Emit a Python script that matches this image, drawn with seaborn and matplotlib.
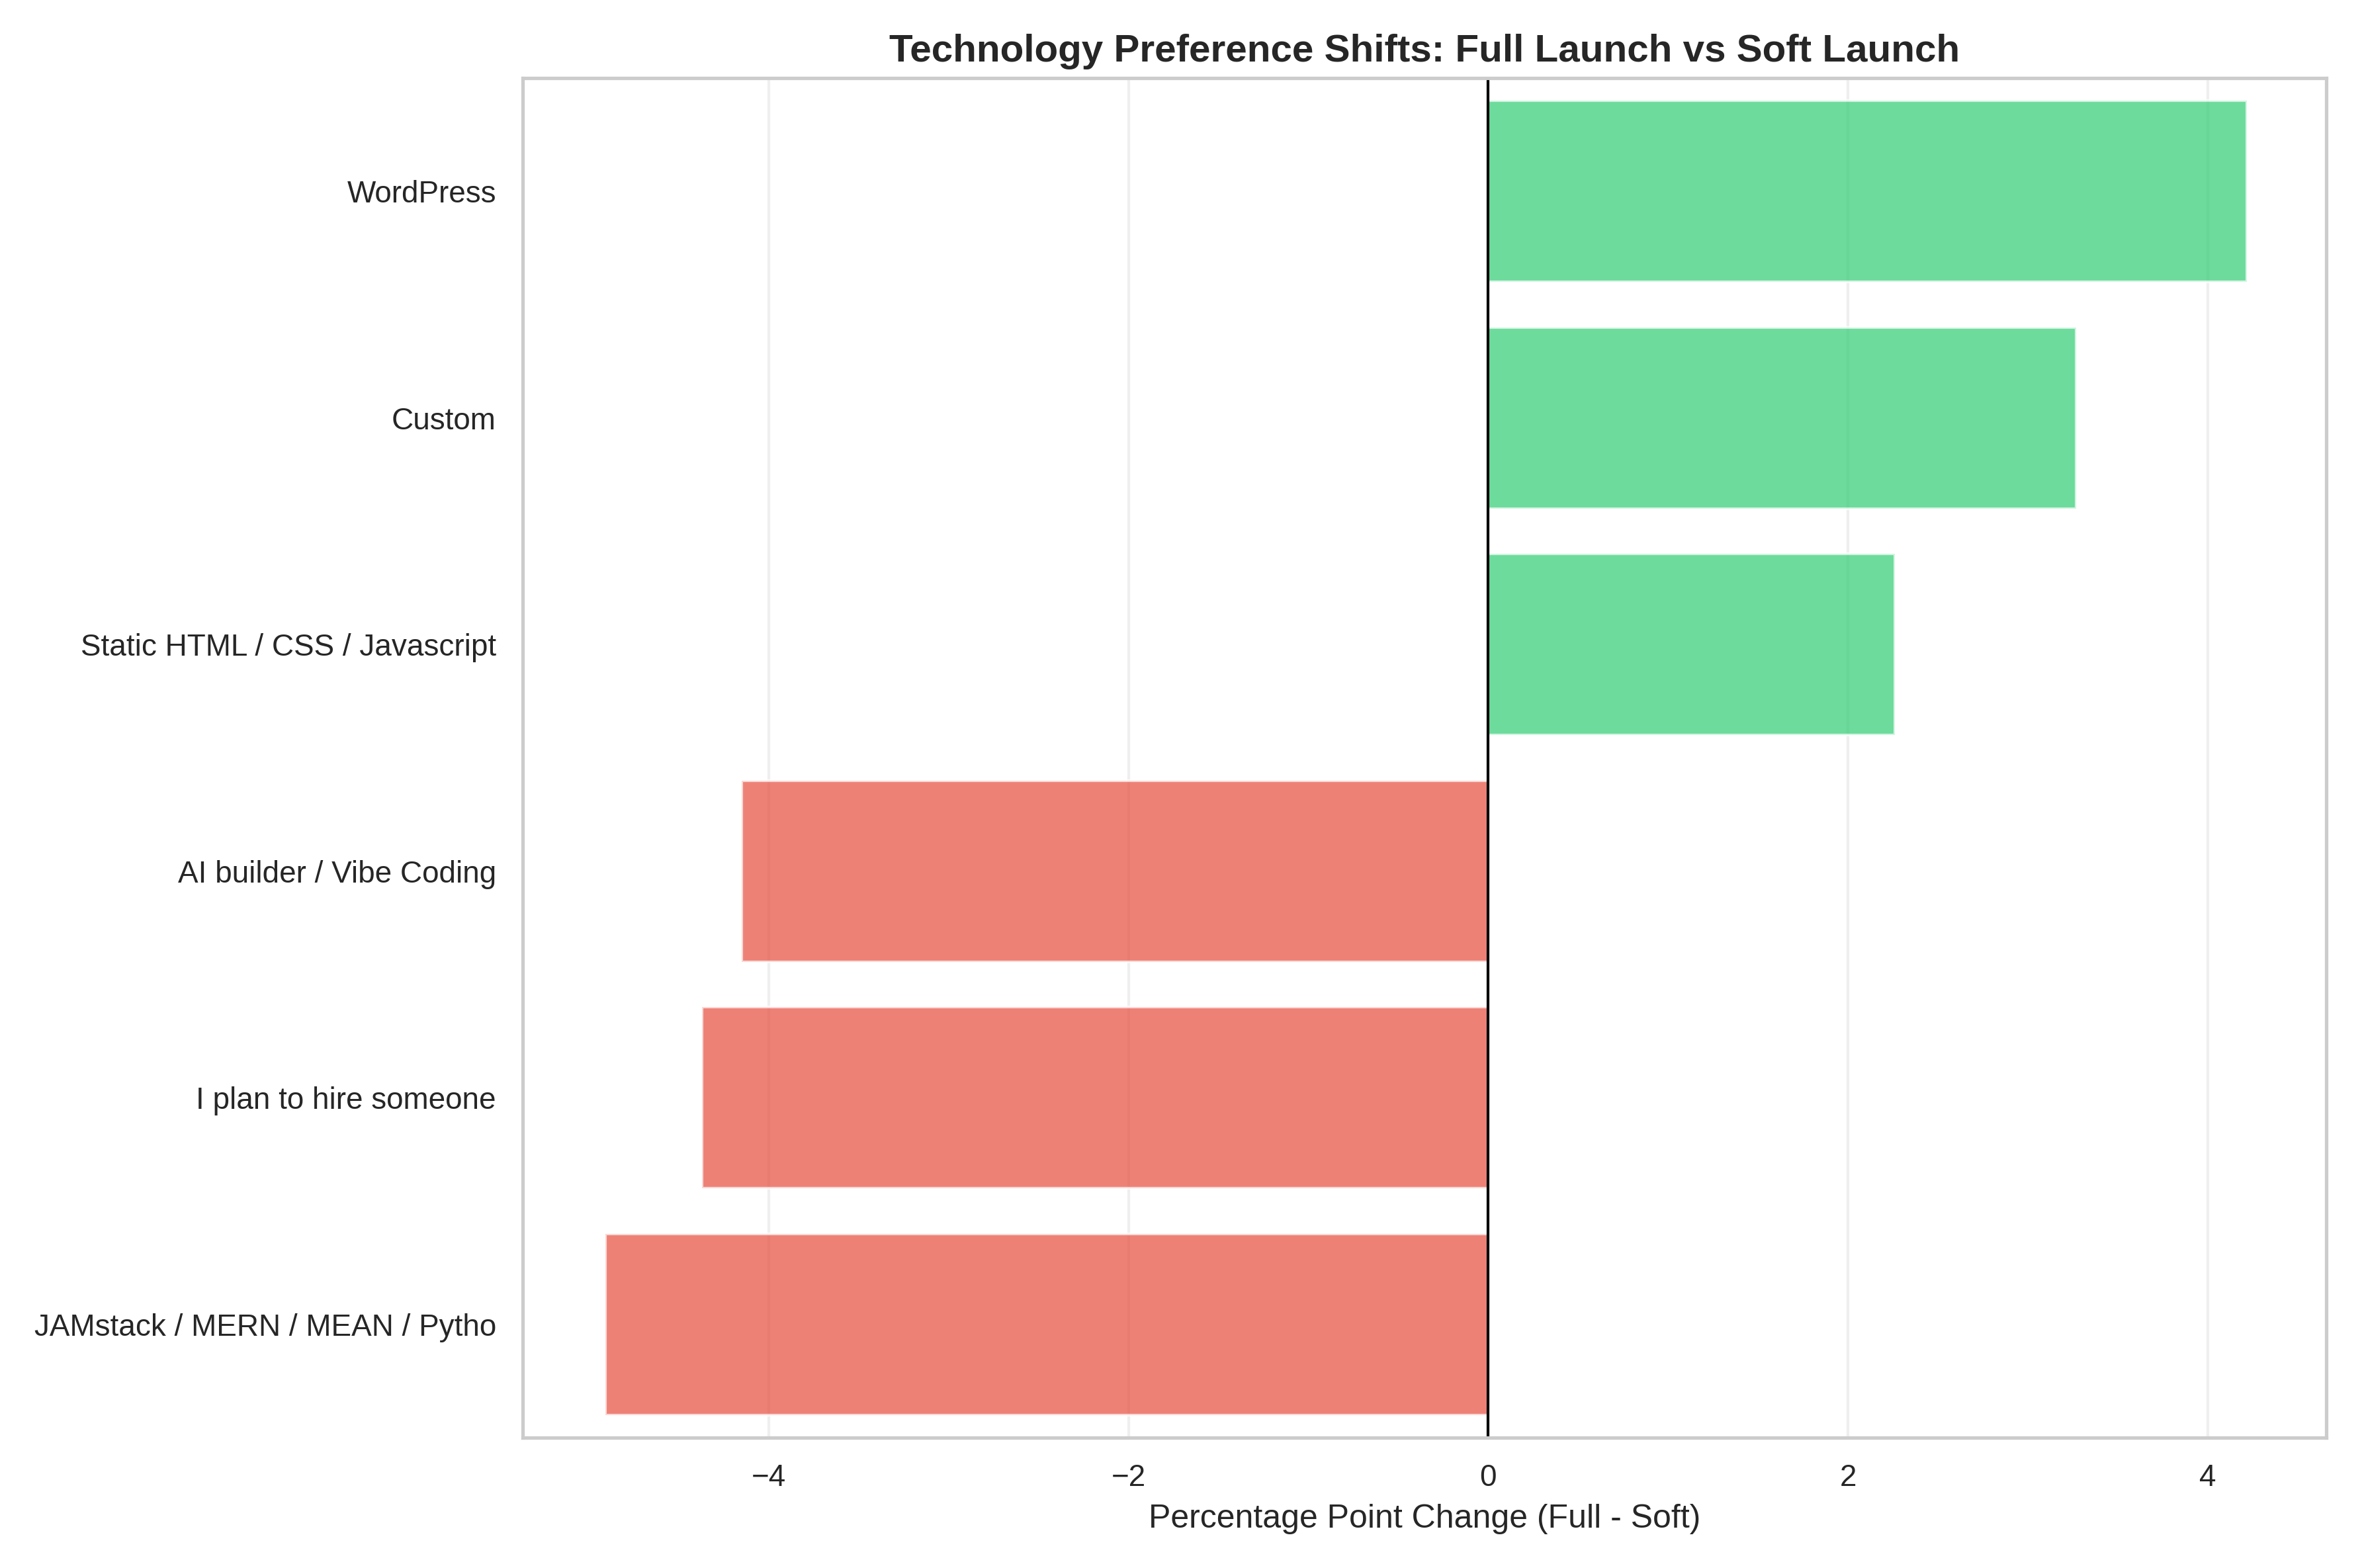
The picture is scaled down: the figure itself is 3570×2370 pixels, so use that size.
import seaborn as sns
import matplotlib.pyplot as plt
import pandas as pd

# Data
technologies = ['WordPress', 'Custom', 'Static HTML / CSS / Javascript',
                'AI builder / Vibe Coding', 'I plan to hire someone',
                'JAMstack / MERN / MEAN / Pytho']
changes = [4.22, 3.27, 2.26, -4.15, -4.37, -4.91]

df = pd.DataFrame({'tech': technologies, 'change': changes})
df['sign'] = ['pos' if c > 0 else 'neg' for c in df['change']]

sns.set_theme(style='whitegrid')
plt.rcParams['font.family'] = ['Arial', 'Liberation Sans', 'DejaVu Sans']

fig, ax = plt.subplots(figsize=(11.9, 7.9))
sns.barplot(data=df, x='change', y='tech', hue='sign', orient='h',
            palette={'pos': '#2ecc71', 'neg': '#e74c3c'}, alpha=0.7,
            width=0.8, dodge=False, legend=False, ax=ax, saturation=1)

ax.axvline(0, color='black', linewidth=1)
ax.grid(axis='x', alpha=0.3)
ax.set_xlabel('Percentage Point Change (Full - Soft)')
ax.set_ylabel('')
ax.set_title('Technology Preference Shifts: Full Launch vs Soft Launch',
             fontsize=14, fontweight='bold')
ax.set_xlim(-5.37, 4.66)

plt.tight_layout()
plt.savefig('out.png', dpi=300)
